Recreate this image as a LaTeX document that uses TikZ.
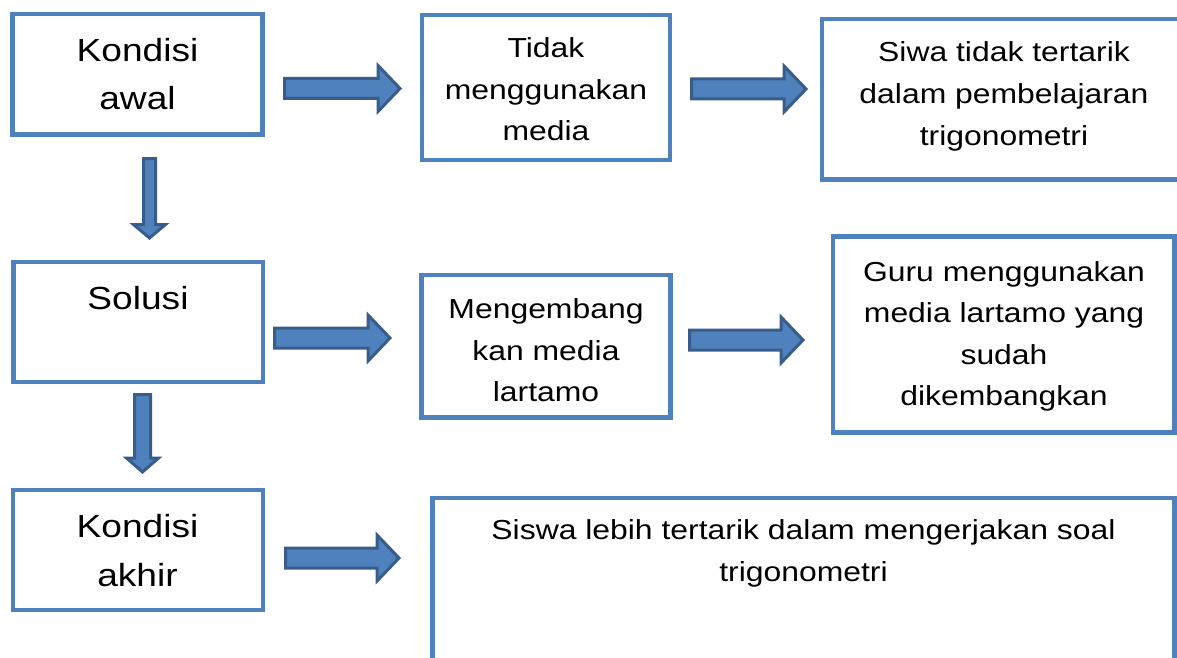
\documentclass[tikz,border=0pt]{standalone}
\usepackage{fontspec}
\setmainfont{Liberation Sans}[FakeStretch=1.16]
\usetikzlibrary{calc}

\definecolor{boxblue}{HTML}{4F81BD}
\definecolor{arrowedge}{HTML}{385D8A}

% Horizontal block arrow: tail, tip, shaft half-width, head half-width, head length
\newcommand\rarrow[5]{%
  \draw[blockarrow] let \p1=(#1), \p2=(#2) in
    (\x1,\y1+#3) -- (\x2-#5,\y1+#3) -- (\x2-#5,\y1+#4) -- (\x2,\y1)
    -- (\x2-#5,\y1-#4) -- (\x2-#5,\y1-#3) -- (\x1,\y1-#3) -- cycle;}
% Downward block arrow: tail, tip, shaft half-width, head half-width, head length
\newcommand\darrow[5]{%
  \draw[blockarrow] let \p1=(#1), \p2=(#2) in
    (\x1-#3,\y1) -- (\x1+#3,\y1) -- (\x1+#3,\y2+#5) -- (\x1+#4,\y2+#5) -- (\x1,\y2)
    -- (\x1-#4,\y2+#5) -- (\x1-#3,\y2+#5) -- cycle;}

\begin{document}
\begin{tikzpicture}[x=1pt,y=-1pt,
  box/.style={draw=boxblue, line width=4.5pt, fill=white, rectangle, inner sep=0pt},
  blockarrow/.style={fill=boxblue, draw=arrowedge, line width=3pt, line join=miter},
  big/.style={anchor=base, align=center, inner sep=0pt, font=\fontsize{32}{48.3}\selectfont},
  small/.style={anchor=base, align=center, inner sep=0pt, font=\fontsize{27.5}{41.5}\selectfont}]
\useasboundingbox (0,0) rectangle (1177,658);
\clip (0,0) rectangle (1177,658);
\fill[white] (0,0) rectangle (1177,658);

% boxes
\node[box, minimum width=250pt, minimum height=120.5pt] (A) at (137.5,74.25) {};
\node[box, minimum width=248pt, minimum height=145pt] (B) at (546,87.5) {};
\node[box, minimum width=370pt, minimum height=160.3pt] (C) at (1007,99.35) {};
\node[box, minimum width=249.5pt, minimum height=120pt] (D) at (138.25,322) {};
\node[box, minimum width=249pt, minimum height=142.5pt] (E) at (546,346.25) {};
\node[box, minimum width=341.5pt, minimum height=196pt] (F) at (1003.75,334.5) {};
\node[box, minimum width=250pt, minimum height=120pt] (G) at (138,550) {};
\node[box, minimum width=742pt, minimum height=190pt] (H) at (803.5,593) {};

% texts (placed by the baseline of their last line)
\node[big] (tA) at (137.5,110) {Kondisi\\awal};
\node[small] (tB) at (546,140.5) {Tidak\\menggunakan\\media};
\node[small] (tC) at (1004,145) {Siwa tidak tertarik\\dalam pembelajaran\\trigonometri};
\node[big] (tD) at (138,309) {Solusi};
\node[small] (tE) at (546,401.5) {Mengembang\\kan media\\lartamo};
\node[small] (tF) at (1004,405.5) {Guru menggunakan\\media lartamo yang\\sudah\\dikembangkan};
\node[big] (tG) at (137.5,586) {Kondisi\\akhir};
\node[small] (tH) at (803.5,581) {Siswa lebih tertarik dalam mengerjakan soal\\trigonometri};

% arrow end points
\coordinate (ab1) at (284.5,88.5);  \coordinate (ab2) at (400,88.5);
\coordinate (bc1) at (691.5,89);    \coordinate (bc2) at (806,89);
\coordinate (de1) at (274.5,338);   \coordinate (de2) at (390,338);
\coordinate (ef1) at (689.5,340);   \coordinate (ef2) at (803,340);
\coordinate (gh1) at (285.5,558);   \coordinate (gh2) at (399,558);
\coordinate (ad1) at (149.5,158.5); \coordinate (ad2) at (149.5,238);
\coordinate (dg1) at (142.5,394.5); \coordinate (dg2) at (142.5,472);

\rarrow{ab1}{ab2}{10pt}{23pt}{22pt}
\rarrow{bc1}{bc2}{10pt}{23pt}{22pt}
\rarrow{de1}{de2}{10pt}{23pt}{22pt}
\rarrow{ef1}{ef2}{10pt}{23pt}{22pt}
\rarrow{gh1}{gh2}{10pt}{23pt}{22pt}
\darrow{ad1}{ad2}{6pt}{16pt}{13.5pt}
\darrow{dg1}{dg2}{8pt}{16pt}{14pt}
\end{tikzpicture}
\end{document}
